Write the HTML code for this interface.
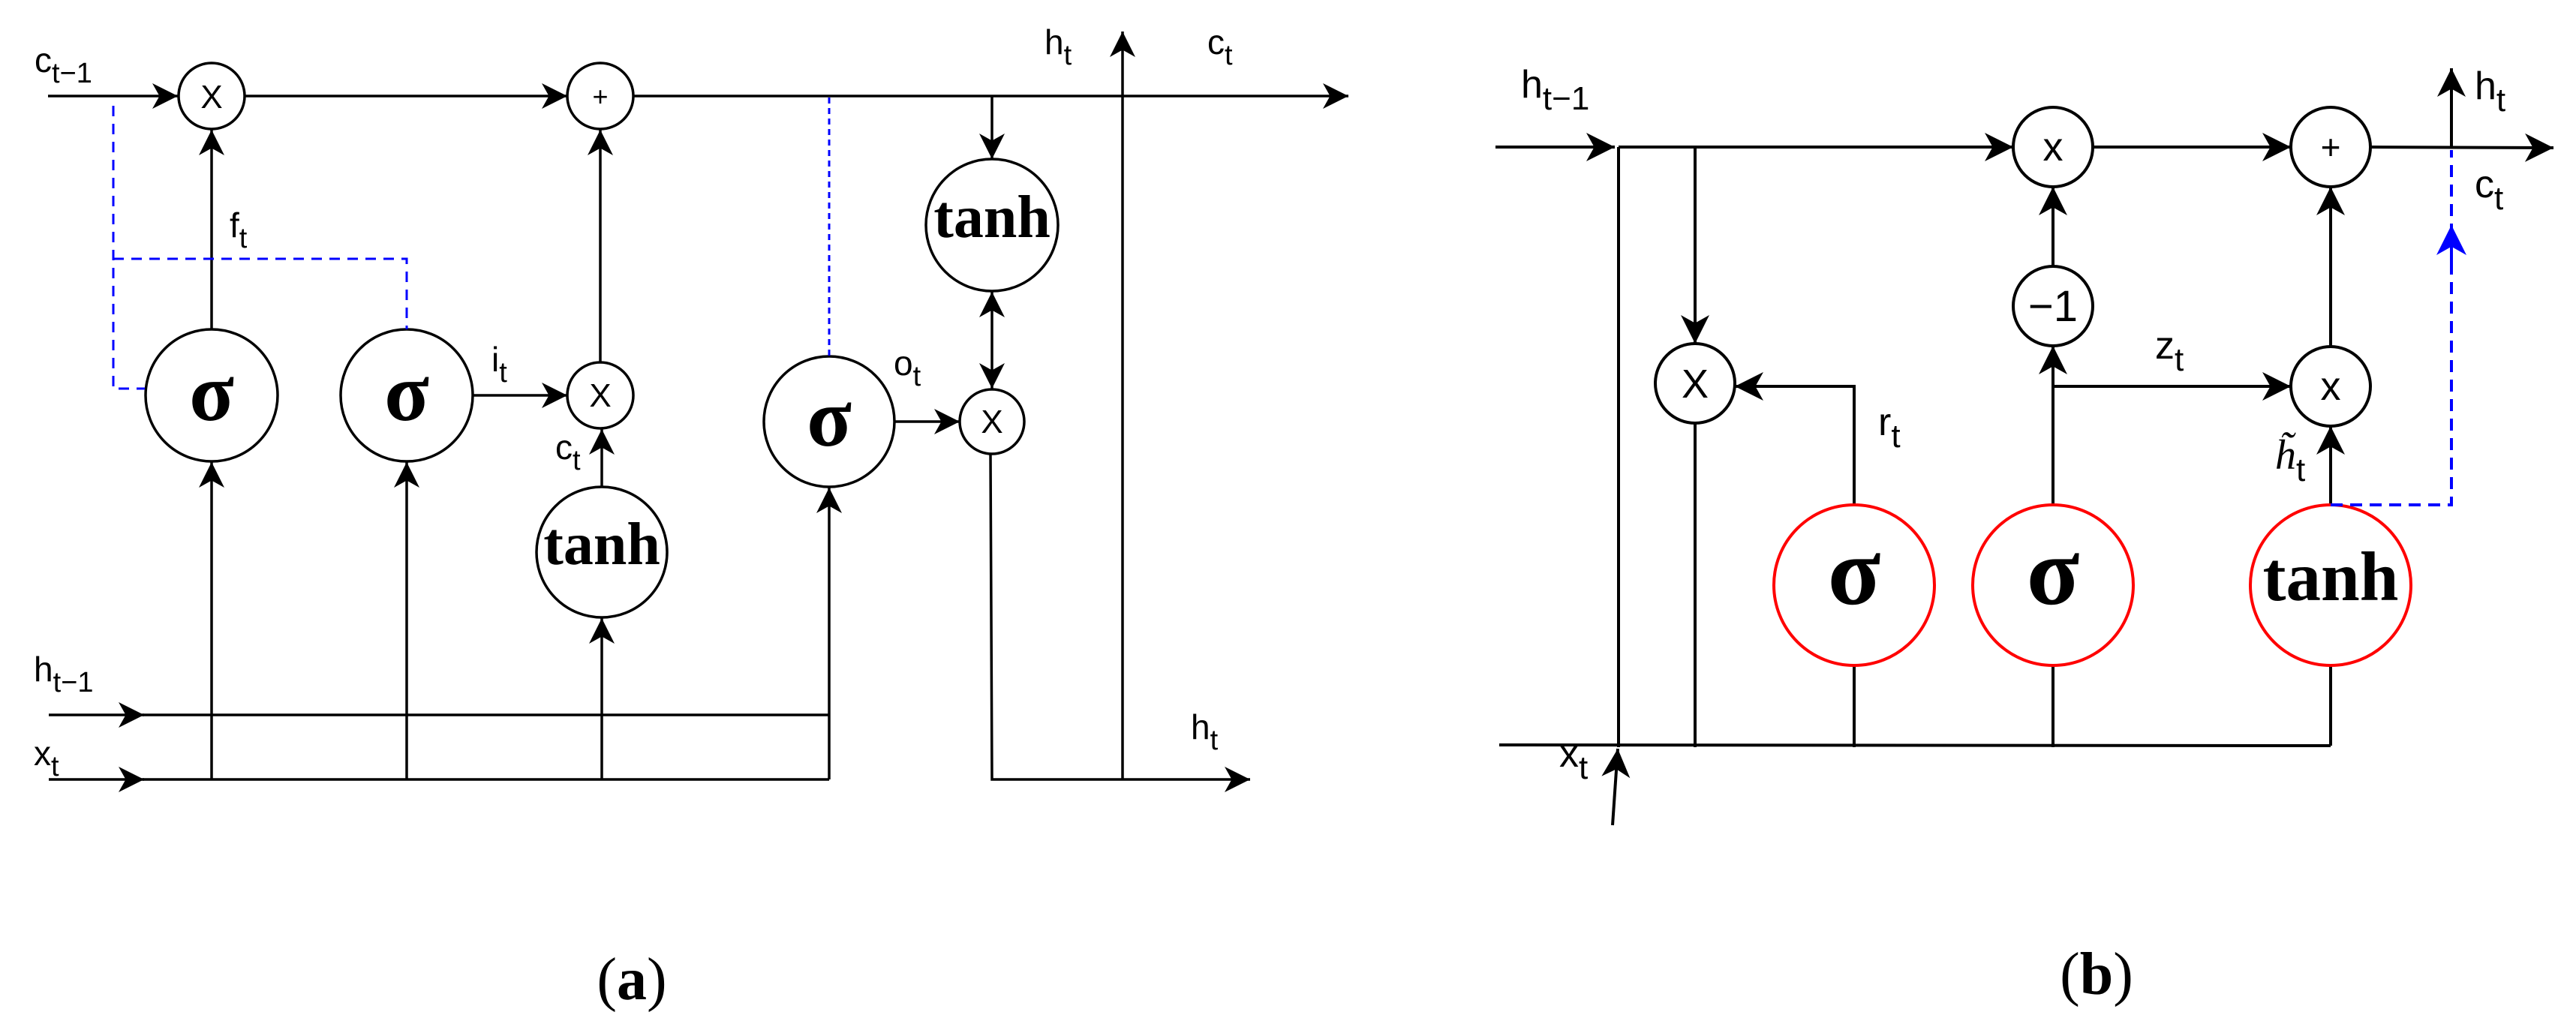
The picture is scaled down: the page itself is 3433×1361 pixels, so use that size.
<!DOCTYPE html>
<html><head><meta charset="utf-8"><style>
html,body{margin:0;padding:0;background:#fff}
svg{display:block}
.s{font-family:"Liberation Sans",sans-serif}
.b{font-family:"Liberation Serif",serif;font-weight:bold}
</style></head><body>
<svg width="3433" height="1361" viewBox="0 0 3433 1361" xmlns="http://www.w3.org/2000/svg">
<defs>
<marker id="a" viewBox="0 0 10 10" refX="10" refY="5" markerWidth="36" markerHeight="34" markerUnits="userSpaceOnUse" orient="auto"><path d="M0,0 L10,5 L0,10 L2.8,5 z" fill="#000"/></marker>
<marker id="as" viewBox="0 0 10 10" refX="0" refY="5" markerWidth="36" markerHeight="34" markerUnits="userSpaceOnUse" orient="auto"><path d="M10,0 L0,5 L10,10 L7.2,5 z" fill="#000"/></marker>
<marker id="ab" viewBox="0 0 10 10" refX="10" refY="5" markerWidth="40" markerHeight="38" markerUnits="userSpaceOnUse" orient="auto"><path d="M0,0 L10,5 L0,10 L2.8,5 z" fill="#000"/></marker>
<marker id="bl" viewBox="0 0 10 10" refX="10" refY="5" markerWidth="48" markerHeight="40" markerUnits="userSpaceOnUse" orient="auto"><path d="M0,0 L10,5 L0,10 L2.8,5 z" fill="#00f"/></marker>
</defs>

<!-- Panel a -->
<g stroke="#000" stroke-width="3.5" fill="none">
<line x1="64" y1="128" x2="237" y2="128" marker-end="url(#a)"/>
<line x1="326" y1="128" x2="756" y2="128" marker-end="url(#a)"/>
<line x1="844" y1="128" x2="1797" y2="128" marker-end="url(#a)"/>
<circle cx="282" cy="128" r="44"/>
<circle cx="800" cy="128" r="44"/>
<line x1="282" y1="439" x2="282" y2="173" marker-end="url(#a)"/>
<circle cx="282" cy="527" r="88"/>
<circle cx="542" cy="527" r="88"/>
<line x1="630" y1="527" x2="756" y2="527" marker-end="url(#a)"/>
<circle cx="800" cy="527" r="44"/>
<line x1="800" y1="483" x2="800" y2="173" marker-end="url(#a)"/>
<ellipse cx="802" cy="736" rx="87" ry="87"/>
<line x1="802" y1="649" x2="802" y2="572" marker-end="url(#a)"/>
<circle cx="1105" cy="562" r="87"/>
<line x1="1192" y1="562" x2="1279" y2="562" marker-end="url(#a)"/>
<circle cx="1322" cy="562" r="43"/>
<line x1="1322" y1="128" x2="1322" y2="212" marker-end="url(#a)"/>
<circle cx="1322" cy="300" r="88"/>
<line x1="1322" y1="389" x2="1322" y2="518" marker-start="url(#as)" marker-end="url(#a)"/>
<polyline points="1320,605 1322,1039 1666,1039" marker-end="url(#a)"/>
<line x1="1496" y1="1039" x2="1496" y2="42" marker-end="url(#a)"/>
<line x1="65" y1="953" x2="192" y2="953" marker-end="url(#a)"/>
<line x1="190" y1="953" x2="1105" y2="953"/>
<line x1="65" y1="1039" x2="192" y2="1039" marker-end="url(#a)"/>
<line x1="190" y1="1039" x2="1105" y2="1039"/>
<line x1="282" y1="1039" x2="282" y2="616" marker-end="url(#a)"/>
<line x1="542" y1="1039" x2="542" y2="616" marker-end="url(#a)"/>
<line x1="802" y1="1039" x2="802" y2="824" marker-end="url(#a)"/>
<line x1="1105" y1="1039" x2="1105" y2="650" marker-end="url(#a)"/>
</g>
<g stroke="#00f" stroke-width="3" fill="none" stroke-dasharray="14,10">
<polyline points="151,141 151,518 193,518"/>
<polyline points="151,345 542,345 542,439"/>
<line x1="1105" y1="130" x2="1105" y2="475" stroke-dasharray="8,6"/>
</g>
<g class="s" fill="#000">
<text x="46" y="96" font-size="46">c<tspan font-size="38" dy="14">t−1</tspan></text>
<text x="282" y="144" font-size="44" text-anchor="middle">X</text>
<text x="800" y="141" font-size="36" text-anchor="middle">+</text>
<text x="800" y="542" font-size="44" text-anchor="middle">X</text>
<text x="1322" y="577" font-size="44" text-anchor="middle">X</text>
<text x="306" y="316" font-size="46">f<tspan font-size="38" dy="14">t</tspan></text>
<text x="655" y="495" font-size="46">i<tspan font-size="38" dy="14">t</tspan></text>
<text x="740" y="612" font-size="46">c<tspan font-size="38" dy="14">t</tspan></text>
<text x="1191" y="500" font-size="46">o<tspan font-size="38" dy="14">t</tspan></text>
<text x="1392" y="72" font-size="46">h<tspan font-size="38" dy="14">t</tspan></text>
<text x="1609" y="72" font-size="46">c<tspan font-size="38" dy="14">t</tspan></text>
<text x="1587" y="985" font-size="46">h<tspan font-size="38" dy="14">t</tspan></text>
<text x="45" y="908" font-size="46">h<tspan font-size="38" dy="14">t−1</tspan></text>
<text x="45" y="1020" font-size="46">x<tspan font-size="38" dy="14">t</tspan></text>
</g>
<g class="b" fill="#000" text-anchor="middle">
<text x="282" y="560" font-size="110">σ</text>
<text x="542" y="560" font-size="110">σ</text>
<text x="1105" y="594" font-size="110">σ</text>
<text x="802" y="752" font-size="80">tanh</text>
<text x="1322" y="316" font-size="80">tanh</text>
</g>
<text x="842" y="1332" font-family="Liberation Serif,serif" font-size="80" text-anchor="middle">(<tspan font-weight="bold">a</tspan>)</text>

<!-- Panel b -->
<g stroke="#000" stroke-width="4" fill="none">
<line x1="1993" y1="196" x2="2152" y2="196" marker-end="url(#ab)"/>
<line x1="2157" y1="196" x2="2683" y2="196" marker-end="url(#ab)"/>
<line x1="2789" y1="196" x2="3053" y2="196" marker-end="url(#ab)"/>
<line x1="3159" y1="196" x2="3403" y2="197" marker-end="url(#ab)"/>
<circle cx="2736" cy="196" r="53"/>
<circle cx="3106" cy="196" r="53"/>
<line x1="2157" y1="196" x2="2157" y2="996"/>
<line x1="2259" y1="196" x2="2259" y2="458" marker-end="url(#ab)"/>
<circle cx="2259" cy="511" r="53"/>
<line x1="2259" y1="564" x2="2259" y2="996"/>
<polyline points="2471,673 2471,515 2312,515" marker-end="url(#ab)"/>
<line x1="2471" y1="887" x2="2471" y2="996"/>
<line x1="2736" y1="673" x2="2736" y2="461" marker-end="url(#ab)"/>
<circle cx="2736" cy="408" r="53"/>
<line x1="2736" y1="355" x2="2736" y2="249" marker-end="url(#ab)"/>
<line x1="2736" y1="515" x2="3053" y2="515" marker-end="url(#ab)"/>
<circle cx="3106" cy="515" r="53"/>
<line x1="2736" y1="887" x2="2736" y2="996"/>
<line x1="3106" y1="673" x2="3106" y2="568" marker-end="url(#ab)"/>
<line x1="3106" y1="462" x2="3106" y2="249" marker-end="url(#ab)"/>
<line x1="3106" y1="887" x2="3106" y2="994"/>
<line x1="1998" y1="993" x2="3106" y2="994"/>
<line x1="2149" y1="1100" x2="2156" y2="998" marker-end="url(#ab)"/>
<line x1="3267" y1="196" x2="3267" y2="91" marker-end="url(#ab)"/>
</g>
<g stroke="#f00" stroke-width="4" fill="none">
<circle cx="2471" cy="780" r="107"/>
<circle cx="2736" cy="780" r="107"/>
<circle cx="3106" cy="780" r="107"/>
</g>
<g stroke="#00f" stroke-width="4" fill="none" stroke-dasharray="16,10">
<polyline points="3106,673 3267,673 3267,200"/>
</g>
<line x1="3267" y1="350" x2="3267" y2="300" stroke="#00f" stroke-width="4" marker-end="url(#bl)"/>
<g class="s" fill="#000">
<text x="2027" y="130" font-size="52">h<tspan font-size="44" dy="16">t−1</tspan></text>
<text x="2078" y="1022" font-size="52">x<tspan font-size="44" dy="16">t</tspan></text>
<text x="2259" y="530" font-size="54" text-anchor="middle">X</text>
<text x="2736" y="214" font-size="54" text-anchor="middle">x</text>
<text x="3106" y="212" font-size="46" text-anchor="middle">+</text>
<text x="2736" y="428" font-size="58" text-anchor="middle">−1</text>
<text x="3106" y="533" font-size="54" text-anchor="middle">x</text>
<text x="2872" y="478" font-size="52">z<tspan font-size="44" dy="16">t</tspan></text>
<text x="2503" y="580" font-size="52">r<tspan font-size="44" dy="16">t</tspan></text>
<text x="3298" y="132" font-size="52">h<tspan font-size="44" dy="16">t</tspan></text>
<text x="3298" y="263" font-size="52">c<tspan font-size="44" dy="16">t</tspan></text>
</g>
<text x="3032" y="625" font-family="Liberation Serif,serif" font-style="italic" font-size="56">h̃<tspan font-family="Liberation Sans,sans-serif" font-style="normal" font-size="44" dy="16">t</tspan></text>
<g class="b" fill="#000" text-anchor="middle">
<text x="2471" y="805" font-size="130">σ</text>
<text x="2736" y="805" font-size="130">σ</text>
<text x="3106" y="800" font-size="93">tanh</text>
</g>
<text x="2794" y="1325" font-family="Liberation Serif,serif" font-size="80" text-anchor="middle">(<tspan font-weight="bold">b</tspan>)</text>
</svg>
</body></html>
